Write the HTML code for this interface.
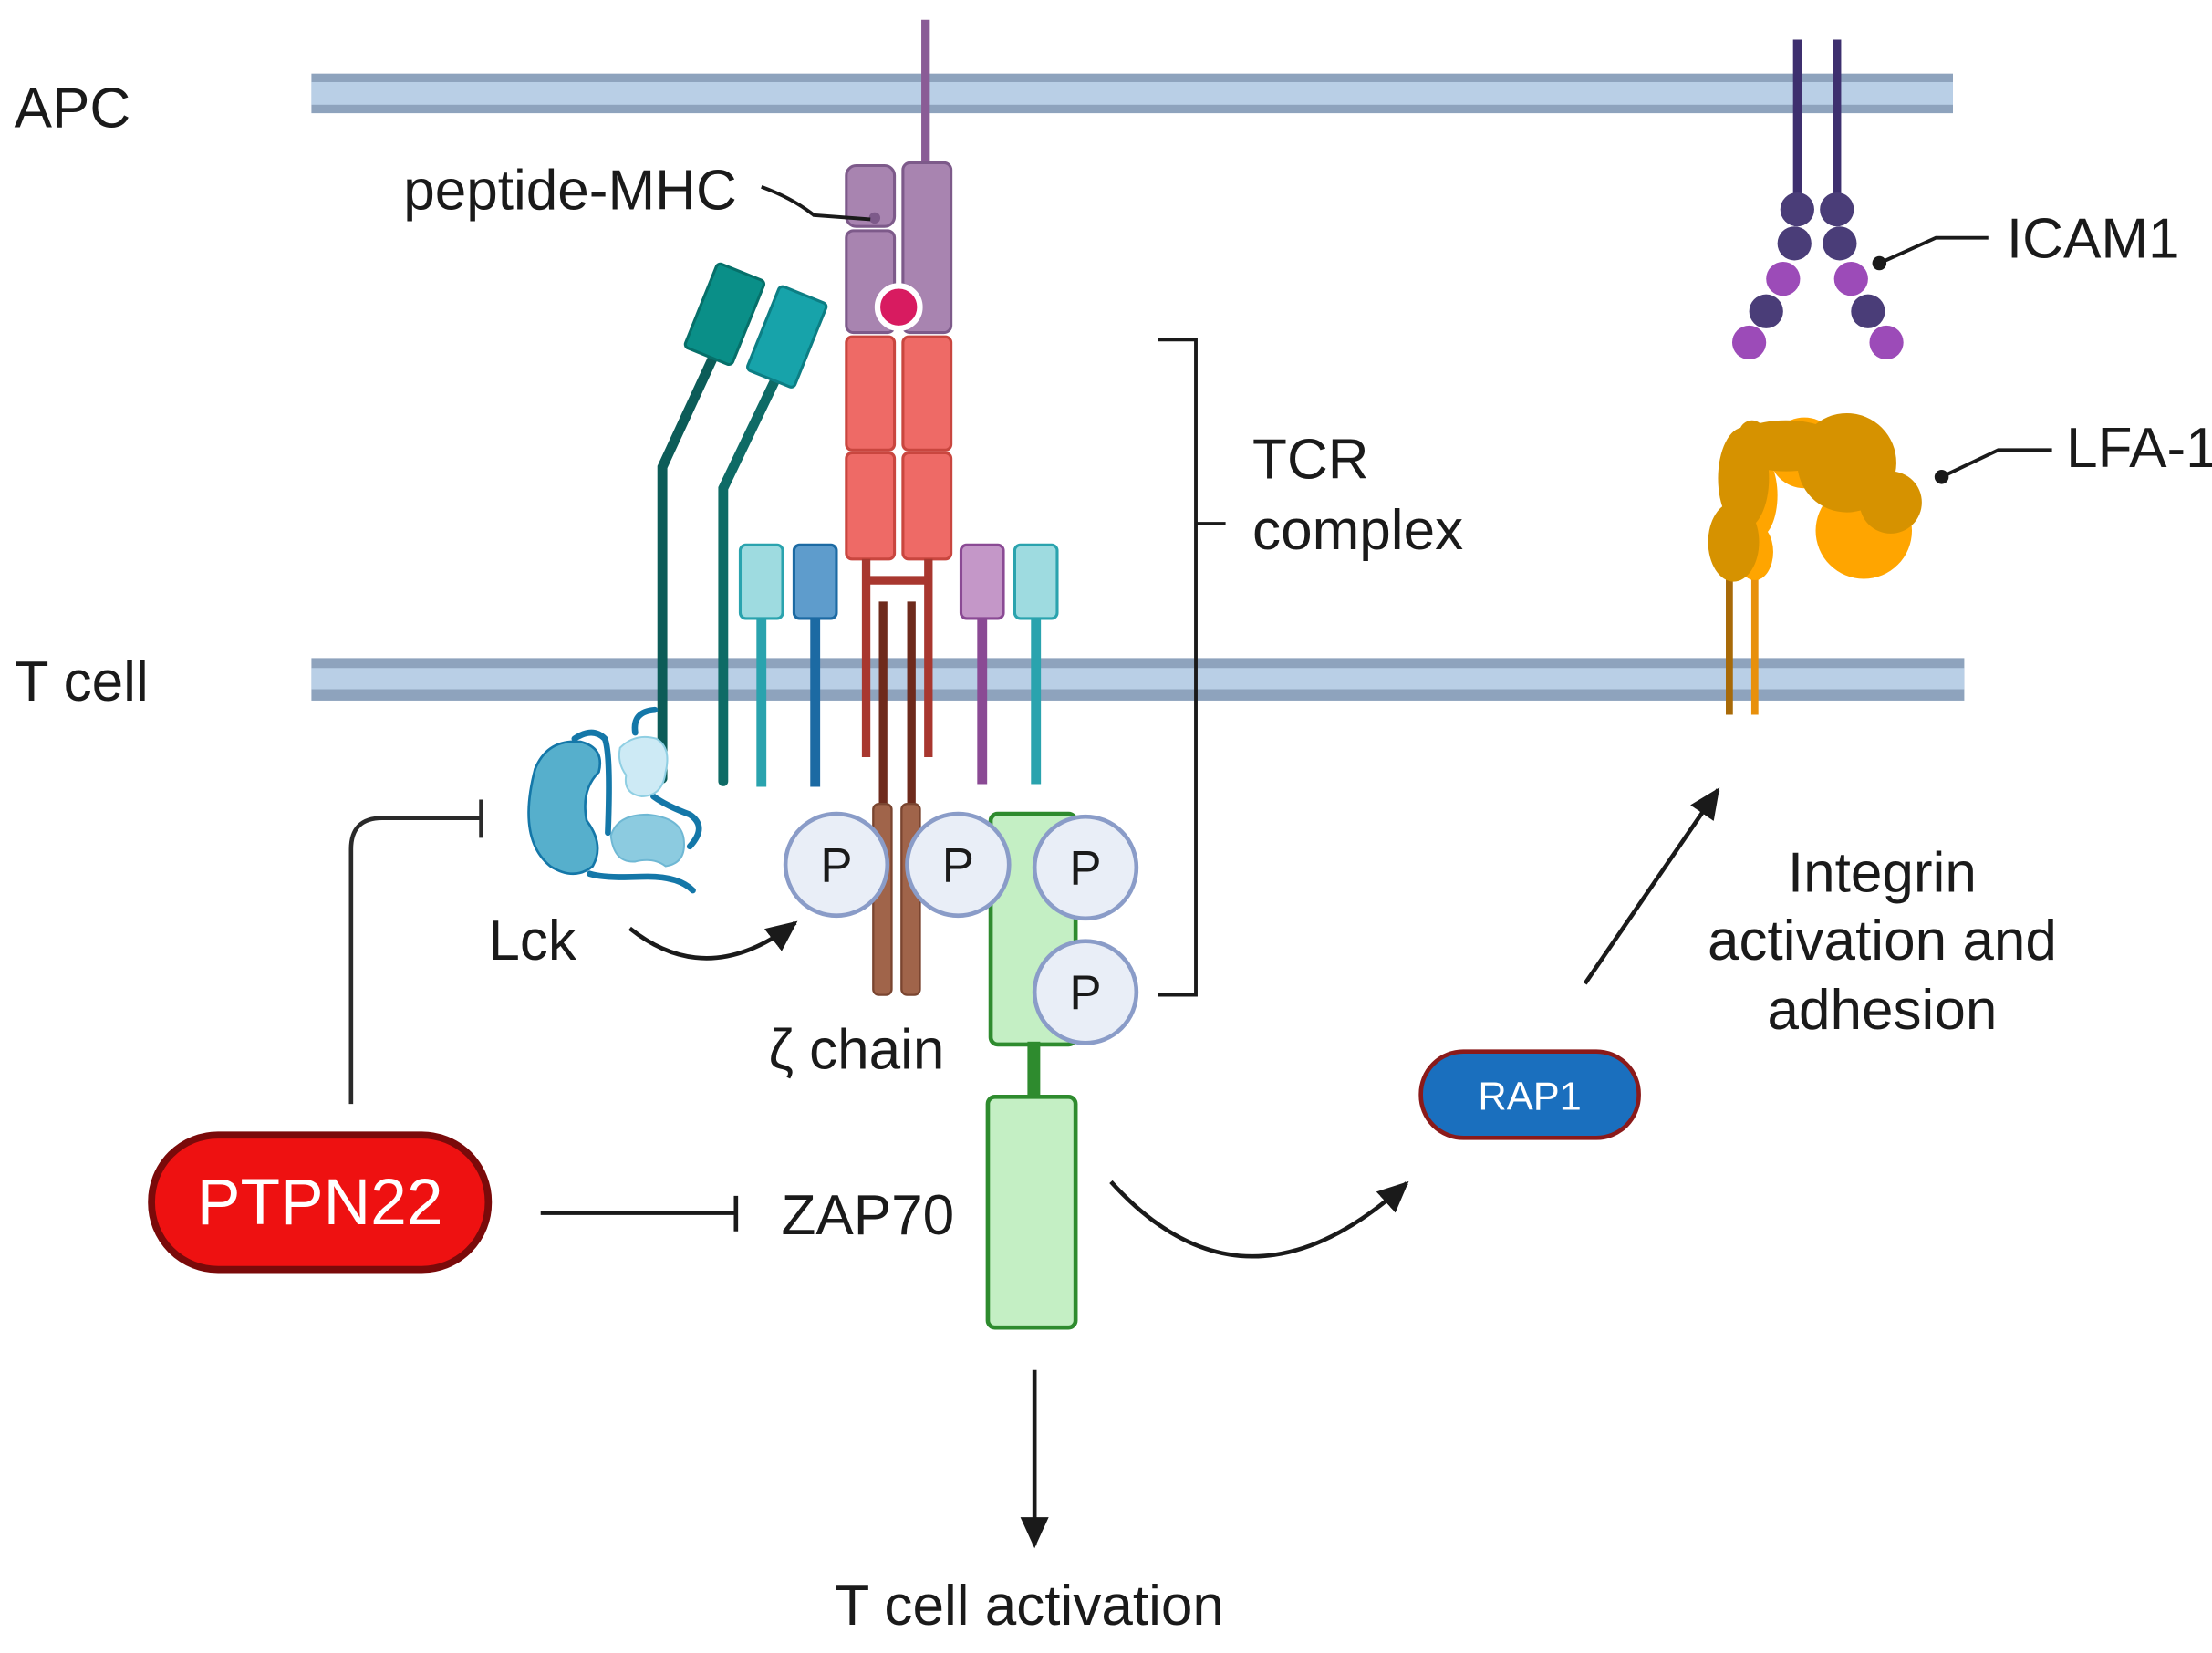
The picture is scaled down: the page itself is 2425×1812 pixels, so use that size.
<!DOCTYPE html>
<html><head><meta charset="utf-8"><style>
html,body{margin:0;padding:0;background:#fff;}
svg{display:block;}
text{font-family:"Liberation Sans",sans-serif;fill:#1a1a1a;}
</style></head><body>
<svg width="2425" height="1812" viewBox="0 0 1563 1168" xmlns="http://www.w3.org/2000/svg">
<defs>
<marker id="ah2" markerWidth="24" markerHeight="24" refX="20" refY="12" orient="auto" markerUnits="userSpaceOnUse"><path d="M0,2 L22,12 L0,22 Z" fill="#1a1a1a"/></marker>
</defs>
<!-- membranes -->
<rect x="220" y="52" width="1160" height="28" fill="#8ea3bd"/>
<rect x="220" y="58" width="1160" height="16" fill="#b9cfe6"/>
<rect x="220" y="465" width="1168" height="30" fill="#8ea3bd"/>
<rect x="220" y="472" width="1168" height="15" fill="#b9cfe6"/>
<text x="10" y="90" font-size="40">APC</text>
<text x="10" y="495" font-size="40">T cell</text>

<!-- MHC -->
<line x1="654" y1="14" x2="654" y2="118" stroke="#8a5c96" stroke-width="6"/>
<rect x="598" y="117" width="34" height="43" rx="7" fill="#a884b0" stroke="#7d5a8a" stroke-width="2"/>
<rect x="598" y="163" width="34" height="72" rx="5" fill="#a884b0" stroke="#7d5a8a" stroke-width="2"/>
<rect x="638" y="115" width="34" height="120" rx="5" fill="#a884b0" stroke="#7d5a8a" stroke-width="2"/>
<circle cx="618" cy="154" r="4" fill="#7d5a8a"/>
<circle cx="635" cy="217" r="15" fill="#d81b60" stroke="#fff" stroke-width="4"/>
<text x="285" y="148" font-size="40">peptide-MHC</text>
<path d="M538,132 Q560,140 575,152 L615,155" fill="none" stroke="#1a1a1a" stroke-width="2.5"/>

<!-- TCR -->
<rect x="598" y="238" width="34" height="80" rx="4" fill="#ee6a66" stroke="#c9463f" stroke-width="2"/>
<rect x="598" y="320" width="34" height="75" rx="4" fill="#ee6a66" stroke="#c9463f" stroke-width="2"/>
<rect x="638" y="238" width="34" height="80" rx="4" fill="#ee6a66" stroke="#c9463f" stroke-width="2"/>
<rect x="638" y="320" width="34" height="75" rx="4" fill="#ee6a66" stroke="#c9463f" stroke-width="2"/>
<g stroke="#a8372f" stroke-width="6" fill="none">
<line x1="612" y1="395" x2="612" y2="535"/>
<line x1="656" y1="395" x2="656" y2="535"/>
<line x1="612" y1="410" x2="656" y2="410"/>
</g>
<!-- zeta -->
<g stroke="#6e2a1c" stroke-width="6"><line x1="624" y1="425" x2="624" y2="575"/><line x1="644" y1="425" x2="644" y2="575"/></g>
<rect x="617" y="568" width="13" height="135" rx="4" fill="#a0644a" stroke="#7a4530" stroke-width="1.5"/>
<rect x="637" y="568" width="13" height="135" rx="4" fill="#a0644a" stroke="#7a4530" stroke-width="1.5"/>

<!-- CD3 -->
<line x1="538" y1="435" x2="538" y2="556" stroke="#2aa3ae" stroke-width="7"/>
<rect x="523" y="385" width="30" height="52" rx="4" fill="#9edbe0" stroke="#2aa3ae" stroke-width="2"/>
<line x1="576" y1="435" x2="576" y2="556" stroke="#1c6aa3" stroke-width="7"/>
<rect x="561" y="385" width="30" height="52" rx="4" fill="#5e9ccc" stroke="#1c6aa3" stroke-width="2"/>
<line x1="694" y1="435" x2="694" y2="554" stroke="#8a4a94" stroke-width="7"/>
<rect x="679" y="385" width="30" height="52" rx="4" fill="#c497c8" stroke="#8a4a94" stroke-width="2"/>
<line x1="732" y1="435" x2="732" y2="554" stroke="#2aa3ae" stroke-width="7"/>
<rect x="717" y="385" width="30" height="52" rx="4" fill="#9edbe0" stroke="#2aa3ae" stroke-width="2"/>

<!-- CD4/CD8 -->
<path d="M505,250 L468,330 L468,550" fill="none" stroke="#0c5c58" stroke-width="7" stroke-linecap="round"/>
<path d="M548,268 L511,345 L511,552" fill="none" stroke="#0e6b66" stroke-width="7" stroke-linecap="round"/>
<rect x="-18" y="-32" width="36" height="64" rx="3" fill="#0a8f88" stroke="#06706a" stroke-width="2" transform="translate(512,222) rotate(22)"/>
<rect x="-18" y="-32" width="36" height="64" rx="3" fill="#17a3aa" stroke="#0c7e84" stroke-width="2" transform="translate(556,238) rotate(22)"/>

<!-- Lck -->
<g transform="translate(341.6,489.8) scale(0.2144)">
<g stroke="#1477a8" stroke-width="20" fill="none" stroke-linecap="round">
<path d="M300,150 Q360,110 400,150 Q420,200 410,460"/>
<path d="M500,130 Q490,60 565,55"/>
<path d="M560,340 Q600,370 680,400 Q740,440 680,505"/>
<path d="M350,595 Q400,610 520,605 Q640,600 690,650"/>
</g>
<path d="M170,250 Q210,150 320,160 Q400,180 380,260 Q320,320 340,420 Q400,500 360,570 Q300,620 220,570 Q110,480 170,250Z" fill="#56afcc" stroke="#1477a8" stroke-width="8"/>
<path d="M450,180 Q500,130 570,150 Q620,180 600,260 Q590,340 520,340 Q460,330 470,270 Q440,230 450,180Z" fill="#cdeaf5" stroke="#8fcfe3" stroke-width="6"/>
<path d="M420,470 Q440,400 540,400 Q650,410 660,480 Q670,560 600,570 Q560,540 500,555 Q430,560 420,470Z" fill="#8ccbe0" stroke="#6fb8d4" stroke-width="6"/>
</g>
<text x="345" y="678" font-size="40">Lck</text>
<path d="M445,656 Q500,700 562,652" fill="none" stroke="#1a1a1a" stroke-width="3" marker-end="url(#ah2)"/>

<!-- ZAP70 -->
<rect x="700" y="575" width="60" height="163" rx="5" fill="#c4efc4" stroke="#2e8b2e" stroke-width="3"/>
<rect x="726" y="736" width="9" height="42" fill="#2e8b2e"/>
<rect x="698" y="775" width="62" height="163" rx="5" fill="#c4efc4" stroke="#2e8b2e" stroke-width="3"/>

<!-- P circles -->
<g font-size="34" text-anchor="middle">
<circle cx="591" cy="611" r="36" fill="#e9eef7" stroke="#8a9cc8" stroke-width="3"/><text x="591" y="623">P</text>
<circle cx="677" cy="611" r="36" fill="#e9eef7" stroke="#8a9cc8" stroke-width="3"/><text x="677" y="623">P</text>
<circle cx="767" cy="613" r="36" fill="#e9eef7" stroke="#8a9cc8" stroke-width="3"/><text x="767" y="625">P</text>
<circle cx="767" cy="701" r="36" fill="#e9eef7" stroke="#8a9cc8" stroke-width="3"/><text x="767" y="713">P</text>
</g>
<text x="543" y="755" font-size="40">ζ chain</text>

<!-- bracket -->
<path d="M818,240 L845,240 L845,703 L818,703 M845,370 L866,370" fill="none" stroke="#1a1a1a" stroke-width="2.5"/>
<text x="885" y="338" font-size="40">TCR</text>
<text x="885" y="388" font-size="40">complex</text>

<!-- ICAM1 -->
<line x1="1270" y1="28" x2="1270" y2="148" stroke="#3d2f6e" stroke-width="6"/>
<line x1="1298" y1="28" x2="1298" y2="148" stroke="#3d2f6e" stroke-width="6"/>
<g fill="#4a3d78">
<circle cx="1270" cy="148" r="12"/><circle cx="1298" cy="148" r="12"/>
<circle cx="1268" cy="172" r="12"/><circle cx="1300" cy="172" r="12"/>
<circle cx="1248" cy="220" r="12"/><circle cx="1320" cy="220" r="12"/>
</g>
<g fill="#9c4bb8">
<circle cx="1260" cy="197" r="12"/><circle cx="1308" cy="197" r="12"/>
<circle cx="1236" cy="242" r="12"/><circle cx="1333" cy="242" r="12"/>
</g>
<path d="M1328,186 L1368,168 L1405,168" fill="none" stroke="#1a1a1a" stroke-width="2.5"/>
<circle cx="1328" cy="186" r="5" fill="#1a1a1a"/>
<text x="1418" y="182" font-size="40">ICAM1</text>

<!-- LFA-1 -->
<line x1="1222" y1="395" x2="1222" y2="505" stroke="#a86a08" stroke-width="5"/>
<line x1="1240" y1="395" x2="1240" y2="505" stroke="#e8900c" stroke-width="5"/>
<g fill="#ffa500">
<ellipse cx="1240" cy="390" rx="13" ry="20"/>
<ellipse cx="1242" cy="350" rx="14" ry="30"/>
<circle cx="1317" cy="375" r="34"/>
<circle cx="1275" cy="320" r="25"/>
</g>
<g fill="#d69200">
<ellipse cx="1225" cy="383" rx="18" ry="28"/>
<ellipse cx="1232" cy="338" rx="18" ry="36"/>
<ellipse cx="1262" cy="315" rx="40" ry="18"/>
<circle cx="1238" cy="306" r="9"/>
<circle cx="1305" cy="327" r="35"/>
<circle cx="1336" cy="355" r="22"/>
</g>
<path d="M1372,337 L1412,318 L1450,318" fill="none" stroke="#1a1a1a" stroke-width="2.5"/>
<circle cx="1372" cy="337" r="5" fill="#1a1a1a"/>
<text x="1460" y="330" font-size="40">LFA-1</text>

<!-- integrin text -->
<g font-size="40" text-anchor="middle">
<text x="1330" y="630">Integrin</text>
<text x="1330" y="678">activation and</text>
<text x="1330" y="727">adhesion</text>
</g>
<line x1="1120" y1="695" x2="1214" y2="558" stroke="#1a1a1a" stroke-width="3" marker-end="url(#ah2)"/>

<!-- RAP1 -->
<rect x="1004" y="743" width="154" height="61" rx="30" fill="#1a6fbe" stroke="#8b1a1a" stroke-width="3"/>
<text x="1081" y="784" font-size="28" text-anchor="middle" style="fill:#fff">RAP1</text>
<path d="M785,835 Q880,940 994,836" fill="none" stroke="#1a1a1a" stroke-width="3" marker-end="url(#ah2)"/>

<!-- PTPN22 -->
<rect x="107" y="802" width="238" height="95" rx="47" fill="#ee1111" stroke="#7a0a0a" stroke-width="5"/>
<text x="226" y="865" font-size="46" text-anchor="middle" style="fill:#fff">PTPN22</text>
<path d="M382,857 L520,857 M520,845 L520,870" fill="none" stroke="#1a1a1a" stroke-width="3"/>
<text x="552" y="872" font-size="40">ZAP70</text>
<path d="M248,780 L248,600 Q248,578 270,578 L340,578 M340,565 L340,592" fill="none" stroke="#2a2a2a" stroke-width="3"/>

<!-- activation -->
<line x1="731" y1="968" x2="731" y2="1092" stroke="#1a1a1a" stroke-width="3" marker-end="url(#ah2)"/>
<text x="590" y="1148" font-size="40">T cell activation</text>
</svg>
</body></html>
